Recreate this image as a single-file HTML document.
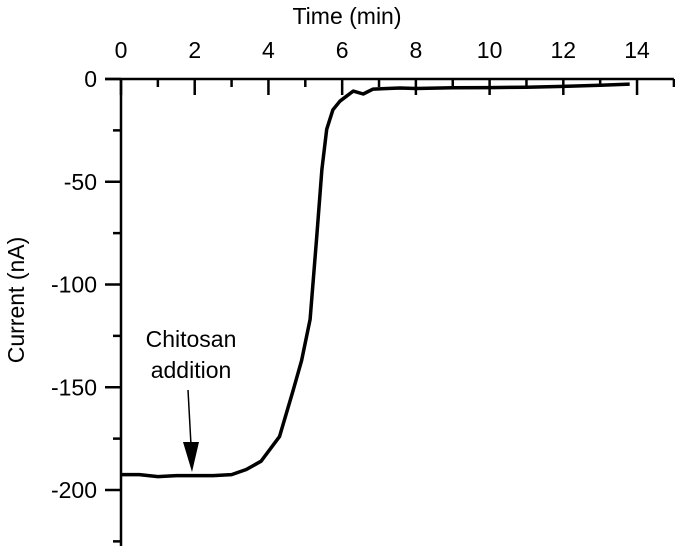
<!DOCTYPE html>
<html><head><meta charset="utf-8"><style>
body{margin:0;background:#fff}
svg text{font-family:"Liberation Sans",Arial,sans-serif;fill:#000}
</style></head><body>
<svg id="chart" width="675" height="548" viewBox="0 0 675 548">
<g id="axes"></g>
<text x="347" y="24" font-size="23" text-anchor="middle">Time (min)</text>
<text transform="translate(24,300) rotate(-90)" font-size="23" text-anchor="middle">Current (nA)</text>
<path id="curve" fill="none" stroke="#000" stroke-width="3.5" stroke-linejoin="round"/>
<text x="191" y="347" font-size="23" text-anchor="middle">Chitosan</text>
<text x="191" y="378" font-size="23" text-anchor="middle">addition</text>
<line x1="188" y1="390" x2="191" y2="445" stroke="#000" stroke-width="1.5"/>
<polygon points="183,442 199,442 192,472" fill="#000"/>
</svg>
<script>
const times=[0,0.5,1,1.5,2,2.5,3,3.4,3.8,4.3,4.67,4.9,5.13,5.31,5.45,5.58,5.75,5.94,6.3,6.57,6.84,7.57,8,9,10,11,12,13,13.8];
const currents=[-192.5,-192.5,-193.5,-193,-193,-193,-192.5,-190,-186,-174,-151.6,-137,-117,-77,-44,-24.5,-15,-10.8,-5.9,-7.3,-4.9,-4.4,-4.6,-4.3,-4.2,-4,-3.6,-3,-2.5];
const xTicks=[0,2,4,6,8,10,12,14];
const yTicks=[0,-50,-100,-150,-200];
const X=t=>121+t*36.86;
const Y=v=>79-v*2.055;
const ns="http://www.w3.org/2000/svg";
const g=document.getElementById('axes');
function line(x1,y1,x2,y2,name){const l=document.createElementNS(ns,'line');l.setAttribute('x1',x1);l.setAttribute('y1',y1);l.setAttribute('x2',x2);l.setAttribute('y2',y2);l.setAttribute('stroke','#000');l.setAttribute('stroke-width','2.5');


g.appendChild(l);}
function text(x,y,s,anchor,name){const t=document.createElementNS(ns,'text');t.setAttribute('x',x);t.setAttribute('y',y);t.setAttribute('font-size','23');t.setAttribute('text-anchor',anchor);t.textContent=s;


g.appendChild(t);}
line(105,79,X(15),79,'x-axis-line');
line(121,79,121,546,'y-axis-line');
for(let t=0;t<=15;t++){line(X(t),79,X(t),t%2?87:95,'x-tick');}
xTicks.forEach(t=>text(X(t),58,String(t),'middle','x-tick-label'));
for(let v=0;v>=-225;v-=25){line(121,Y(v),v%50?113:105,Y(v),'y-tick');}
yTicks.forEach(v=>text(97,Y(v)+8,String(v),'end','y-tick-label'));
document.getElementById('curve').setAttribute('d',times.map((t,i)=>(i?'L':'M')+X(t).toFixed(1)+','+Y(currents[i]).toFixed(1)).join(''));
</script>
</body></html>
